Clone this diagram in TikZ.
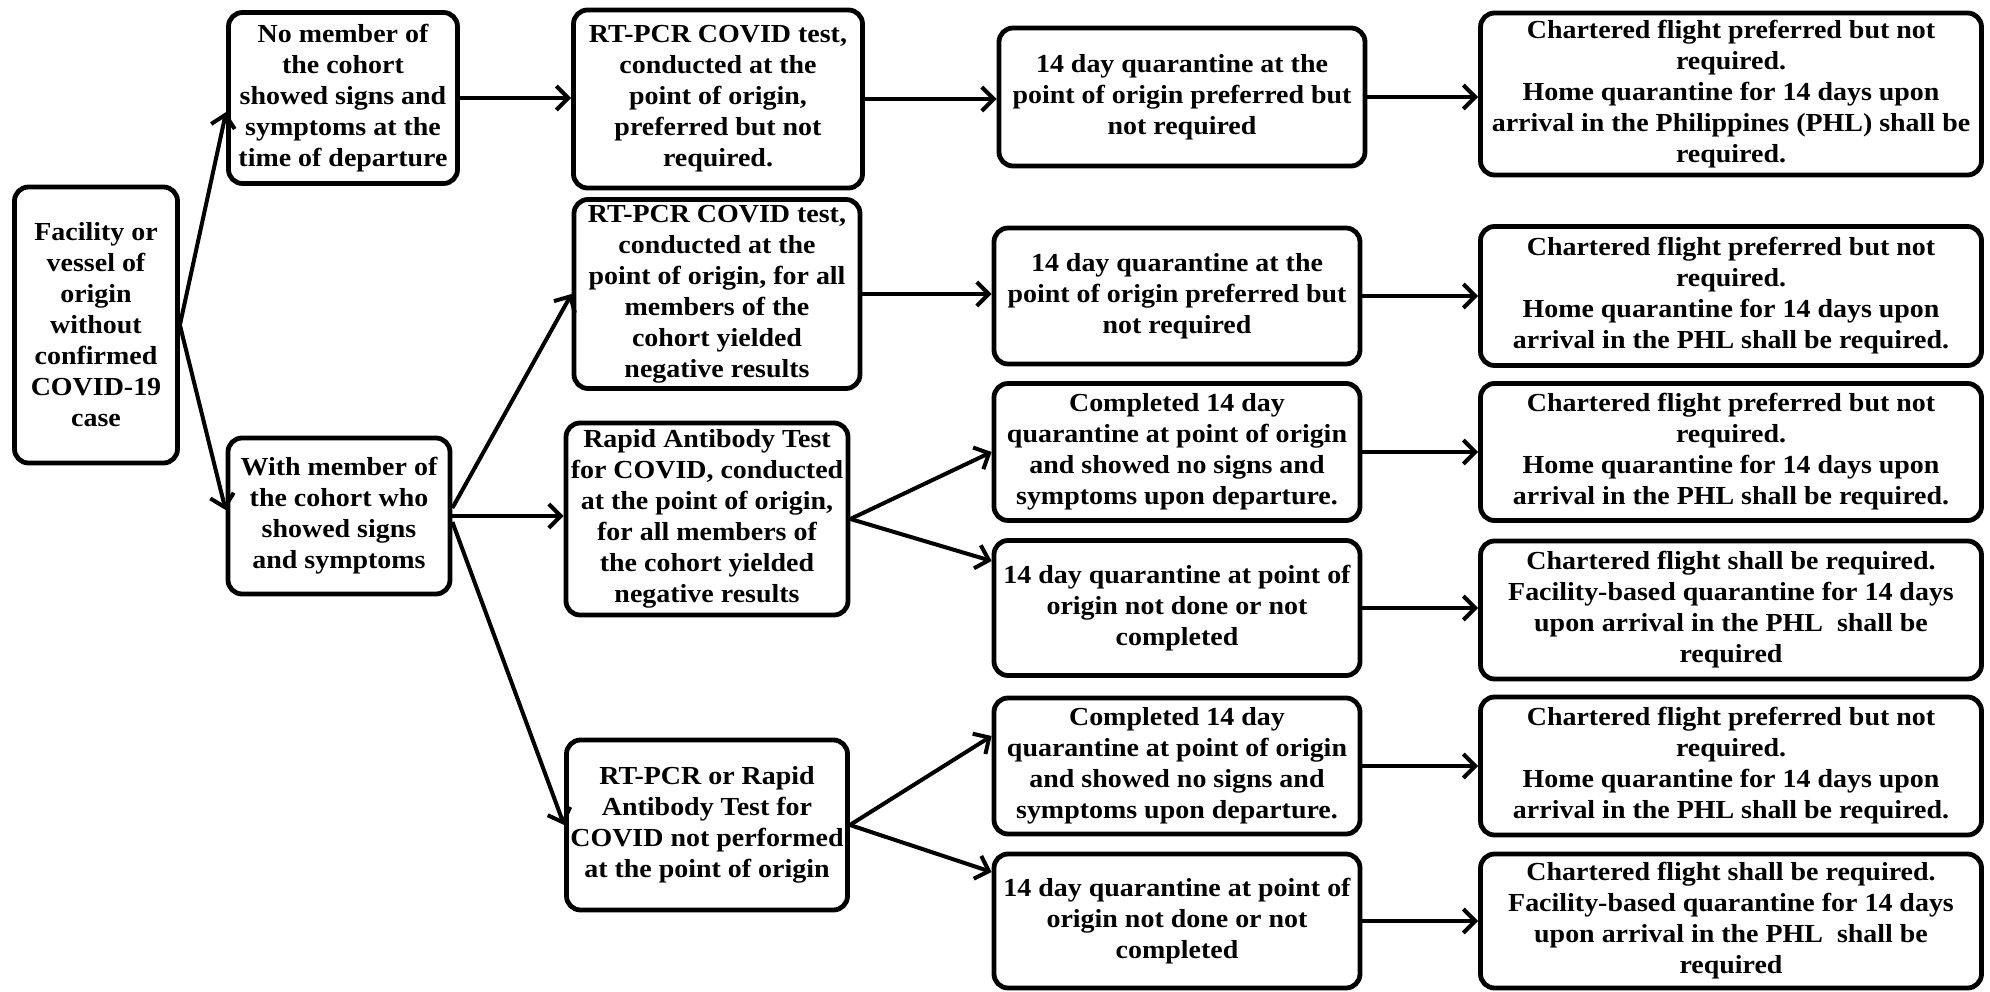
\documentclass[tikz,border=0pt]{standalone}
\usepackage{fontspec}
\setmainfont{Liberation Serif}[FakeStretch=1.075]
\usetikzlibrary{arrows.meta,calc}
\newcommand\boxfont{\fontsize{26}{31}\selectfont\bfseries}
\begin{document}
\begin{tikzpicture}[x=1pt,y=-1pt,
  box/.style={draw, line width=4.8pt, rounded corners=14pt, align=center, inner sep=0pt, font=\boxfont},
  arr/.style={line width=4pt, -{Straight Barb[length=12pt,width=24pt]}},
]
\useasboundingbox[fill=white] (0,0) rectangle (1990,992);
% column A/B
\node[box, minimum width=163pt, minimum height=276pt] (A) at (96,325)
  {Facility or\\vessel of\\origin\\without\\confirmed\\COVID-19\\case};
\node[box, minimum width=229pt, minimum height=171pt] (B1) at (343,98)
  {No member of\\the cohort\\showed signs and\\symptoms at the\\time of departure};
\node[box, minimum width=222pt, minimum height=156pt] (B2) at (339,516)
  {With member of\\the cohort who\\showed signs\\and symptoms};
% column C
\node[box, minimum width=289pt, minimum height=178pt] (C1) at (718,99)
  {RT-PCR COVID test,\\conducted at the\\point of origin,\\preferred but not\\required.};
\node[box, minimum width=286pt, minimum height=189pt] (C2) at (717,294)
  {RT-PCR COVID test,\\conducted at the\\point of origin, for all\\members of the\\cohort yielded\\negative results};
\node[box, minimum width=282pt, minimum height=192pt] (C3) at (707,519)
  {Rapid Antibody Test\\for COVID, conducted\\at the point of origin,\\for all members of\\the cohort yielded\\negative results};
\node[box, minimum width=281pt, minimum height=170pt] (C4) at (707,825)
  {RT-PCR or Rapid\\Antibody Test for\\COVID not performed\\at the point of origin};
% column D
\node[box, minimum width=366pt, minimum height=138pt] (D1) at (1182,97)
  {14 day quarantine at the\\point of origin preferred but\\not required};
\node[box, minimum width=366pt, minimum height=136pt] (D2) at (1177,296)
  {14 day quarantine at the\\point of origin preferred but\\not required};
\node[box, minimum width=366pt, minimum height=137pt] (D3) at (1177,452)
  {Completed 14 day\\quarantine at point of origin\\and showed no signs and\\symptoms upon departure.};
\node[box, minimum width=366pt, minimum height=135pt] (D4) at (1177,608)
  {14 day quarantine at point of\\origin not done or not\\completed};
\node[box, minimum width=366pt, minimum height=136pt] (D5) at (1177,766)
  {Completed 14 day\\quarantine at point of origin\\and showed no signs and\\symptoms upon departure.};
\node[box, minimum width=366pt, minimum height=134pt] (D6) at (1177,921)
  {14 day quarantine at point of\\origin not done or not\\completed};
% column E
\node[box, minimum width=501pt, minimum height=162pt] (E1) at (1731,94)
  {Chartered flight preferred but not\\required.\\Home quarantine for 14 days upon\\arrival in the Philippines (PHL) shall be\\required.};
\node[box, minimum width=501pt, minimum height=139pt] (E2) at (1731,296)
  {Chartered flight preferred but not\\required.\\Home quarantine for 14 days upon\\arrival in the PHL shall be required.};
\node[box, minimum width=501pt, minimum height=137pt] (E3) at (1731,452)
  {Chartered flight preferred but not\\required.\\Home quarantine for 14 days upon\\arrival in the PHL shall be required.};
\node[box, minimum width=501pt, minimum height=138pt] (E4) at (1731,610)
  {Chartered flight shall be required.\\Facility-based quarantine for 14 days\\upon arrival in the PHL\ \ shall be\\required};
\node[box, minimum width=501pt, minimum height=138pt] (E5) at (1731,766)
  {Chartered flight preferred but not\\required.\\Home quarantine for 14 days upon\\arrival in the PHL shall be required.};
\node[box, minimum width=501pt, minimum height=134pt] (E6) at (1731,921)
  {Chartered flight shall be required.\\Facility-based quarantine for 14 days\\upon arrival in the PHL\ \ shall be\\required};
% connectors
\draw[arr] (A.east) -- ($(B1.west)+(0,14)$);
\draw[arr] (A.east) -- ($(B2.west)+(0,-6)$);
\draw[arr] (B1.east) -- (B1.east -| C1.west);
\draw[arr] ($(B2.east)+(0,-8)$) -- (C2.west);
\draw[arr] (B2.east) -- (B2.east -| C3.west);
\draw[arr] ($(B2.east)+(0,6)$) -- (C4.west);
\draw[arr] (C1.east) -- (C1.east -| D1.west);
\draw[arr] (C2.east) -- (C2.east -| D2.west);
\draw[arr] (C3.east) -- (D3.west);
\draw[arr] (C3.east) -- ($(D4.west)+(0,-47)$);
\draw[arr] (C4.east) -- ($(D5.west)+(0,-30)$);
\draw[arr] (C4.east) -- ($(D6.west)+(0,-49)$);
\draw[arr] (D1.east) -- (D1.east -| E1.west);
\draw[arr] (D2.east) -- (D2.east -| E2.west);
\draw[arr] (D3.east) -- (D3.east -| E3.west);
\draw[arr] (D4.east) -- (D4.east -| E4.west);
\draw[arr] (D5.east) -- (D5.east -| E5.west);
\draw[arr] (D6.east) -- (D6.east -| E6.west);
\end{tikzpicture}
\end{document}
